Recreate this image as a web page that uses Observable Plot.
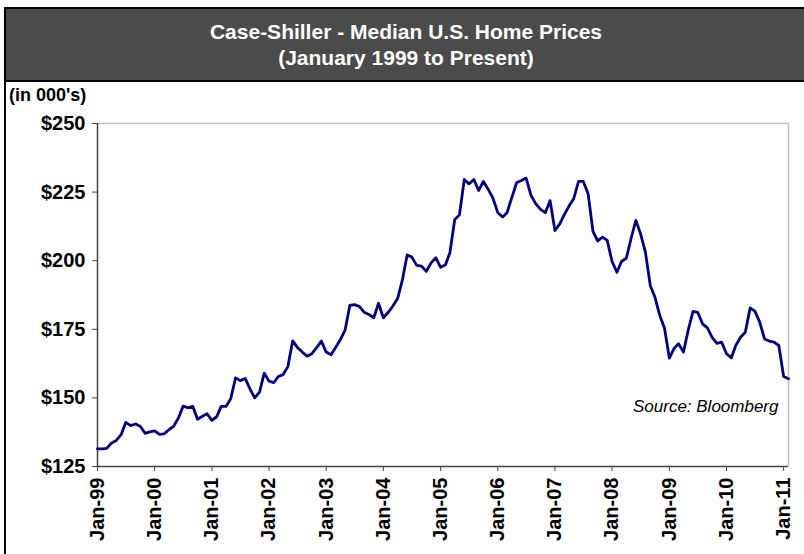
<!DOCTYPE html>
<html>
<head>
<meta charset="utf-8">
<script src="https://cdn.jsdelivr.net/npm/d3@7"></script>
<script src="https://cdn.jsdelivr.net/npm/@observablehq/plot@0.6"></script>
<style>
  body { margin: 0; background: #fff; font-family: "Liberation Sans", Arial, sans-serif; }
  #page { position: relative; width: 804px; height: 554px; overflow: hidden; background: #fff; }
  #leftline { position: absolute; left: 4px; top: 7px; width: 2px; height: 547px; background: #000; }
  #title { position: absolute; left: 4px; top: 7px; width: 800px; height: 71px; box-sizing: content-box;
           background: #4b4b4b; border-top: 2px solid #000; border-bottom: 2px solid #000; border-left: 2px solid #000;
           color: #fff; font-weight: bold; font-size: 21px; text-align: center; line-height: 26px; padding-top: 0; }
  #title .inner { padding-top: 10px; }
  #unit { position: absolute; left: 9px; top: 85px; font-weight: bold; font-size: 18px; line-height: 20px; color: #000; }
  #chart { position: absolute; left: 0; top: 82px; }
</style>
</head>
<body>
<div id="page">
  <div id="leftline"></div>
  <div id="title"><div class="inner">Case-Shiller - Median U.S. Home Prices<br>(January 1999 to Present)</div></div>
  <div id="unit">(in 000's)</div>
  <div id="chart"></div>
</div>
<script>
// Monthly median home prices (in $000s), Jan 1999 onward
const startYear = 1999;
const prices1999 = [131.4, 131.4, 131.6, 133.6, 134.5, 136.6, 141.1, 139.9, 140.5, 139.7, 137.1, 137.6];
const prices2000 = [138.0, 136.7, 136.9, 138.4, 139.6, 142.7, 147.0, 146.4, 146.9, 142.2, 143.3, 144.2];
const prices2001 = [141.8, 143.2, 146.9, 146.9, 149.7, 157.3, 156.3, 157.1, 153.3, 150.0, 152.1, 159.0];
const prices2002 = [156.1, 155.6, 157.8, 158.5, 161.4, 170.8, 168.4, 166.7, 165.2, 166.1, 168.3, 170.7];
const prices2003 = [166.7, 165.7, 168.3, 171.2, 174.6, 183.7, 184.0, 183.3, 181.2, 180.4, 179.2, 184.5];
const prices2004 = [179.2, 181.2, 183.4, 186.2, 192.8, 202.1, 201.3, 198.3, 198.0, 196.1, 199.2, 201.1];
const prices2005 = [197.6, 198.5, 202.9, 215.0, 216.7, 229.6, 228.0, 229.6, 225.6, 228.9, 226.0, 222.8];
const prices2006 = [217.5, 215.9, 217.5, 223.1, 228.4, 229.2, 230.1, 223.8, 220.7, 218.7, 217.5, 221.9];
const prices2007 = [211.0, 213.4, 216.7, 219.9, 222.6, 228.9, 228.9, 224.4, 210.7, 207.2, 208.6, 207.4];
const prices2008 = [199.7, 195.8, 199.7, 200.9, 208.0, 214.7, 209.8, 203.1, 191.0, 186.7, 180.0, 175.4];
const prices2009 = [164.5, 168.1, 169.7, 166.7, 174.6, 181.5, 181.2, 177.0, 175.5, 172.1, 169.9, 170.3];
const prices2010 = [166.1, 164.6, 169.1, 172.1, 173.9, 182.8, 181.6, 177.6, 171.5, 170.7, 170.3, 169.1];
const prices2011 = [157.8, 157.0];

const yTickValues = [125, 150, 175, 200, 225, 250];
const xTickYears = [1999, 2000, 2001, 2002, 2003, 2004, 2005, 2006, 2007, 2008, 2009, 2010, 2011];
const sourceNote = ["Source: Bloomberg"];

const allPrices = [].concat(prices1999, prices2000, prices2001, prices2002, prices2003, prices2004,
  prices2005, prices2006, prices2007, prices2008, prices2009, prices2010, prices2011);
const data = allPrices.map((v, i) => ({ date: new Date(Date.UTC(startYear, i, 1)), value: v }));
const xStart = data[0].date;
const xEnd = data[data.length - 1].date;
const xTicks = xTickYears.map(y => new Date(Date.UTC(y, 0, 1)));

const chart = Plot.plot({
  width: 804,
  height: 472,
  marginTop: 41,
  marginBottom: 88,
  marginLeft: 97,
  marginRight: 16,
  style: { fontFamily: "'Liberation Sans', Arial, sans-serif", fontWeight: "bold", background: "transparent", color: "#000", overflow: "visible" },
  x: { type: "utc", domain: [xStart, xEnd] },
  y: { domain: [125, 250] },
  marks: [
    Plot.ruleY([250], { stroke: "#c0c0c0", strokeWidth: 1.5 }),
    Plot.ruleX([xEnd], { stroke: "#c0c0c0", strokeWidth: 1.5 }),
    Plot.axisY({ ticks: yTickValues, tickFormat: d => "$" + d, tickSize: 5, tickPadding: 7,
      fontSize: 20, fontWeight: "bold", label: null, stroke: "#444" }),
    Plot.axisX({ ticks: xTicks, tickFormat: d3.utcFormat("%b-%y"), tickRotate: -90, tickSize: 5, tickPadding: 6,
      fontSize: 20, fontWeight: "bold", label: null, stroke: "#444" }),
    Plot.ruleX([xStart], { stroke: "#444", strokeWidth: 1.5 }),
    Plot.ruleY([125], { stroke: "#444", strokeWidth: 1.5 }),
    Plot.line(data, { x: "date", y: "value", stroke: "#000080", strokeWidth: 2.8, strokeLinejoin: "round" }),
    Plot.text(sourceNote, { text: d => d, frameAnchor: "bottom-right", dx: -10, dy: -55, lineAnchor: "bottom",
      textAnchor: "end", fontStyle: "italic", fontWeight: "normal", fontSize: 17, fill: "#000" })
  ]
});
document.getElementById("chart").appendChild(chart);
</script>
</body>
</html>
